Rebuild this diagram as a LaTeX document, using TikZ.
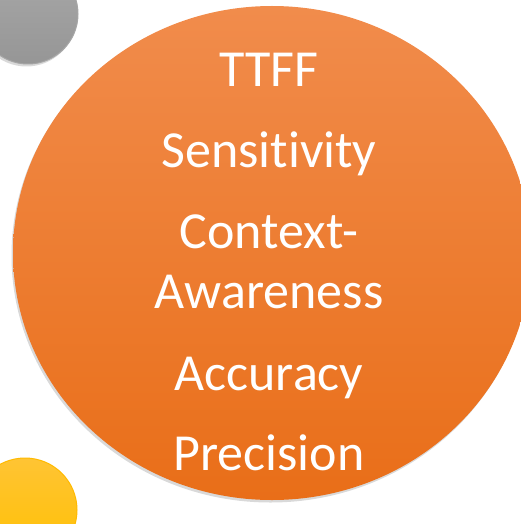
\documentclass[tikz,border=0pt]{standalone}
\usepackage{fontspec}
\setmainfont{Carlito}[Ligatures=NoCommon]
\usetikzlibrary{shadows}

\definecolor{orangetop}{RGB}{241,140,76}
\definecolor{orangemid}{RGB}{244,122,32}
\definecolor{orangebot}{RGB}{233,110,24}
\definecolor{graytop}{RGB}{168,168,168}
\definecolor{graybot}{RGB}{150,150,150}
\definecolor{yellowtop}{RGB}{255,196,52}
\definecolor{yellowbot}{RGB}{255,192,0}

\begin{document}
\begin{tikzpicture}
    \def\dx{1pt}
    \def\dy{-1pt}

    \tikzstyle{item}=[text=white,font=\fontsize{52}{60}\selectfont,anchor=base,inner sep=0pt]
    \tikzstyle{ball}=[drop shadow={opacity=0.3,shadow xshift=-1.5pt,shadow yshift=-2.5pt}]

    \useasboundingbox (0,0) rectangle (521*\dx,524*\dy);
    \clip (0,0) rectangle (521*\dx,524*\dy);

    % side circles
    \shade[ball,top color=graytop,bottom color=graybot,draw=gray!70,line width=1pt]
        (28*\dx,14*\dy) circle (50pt);
    \shade[ball,top color=yellowtop,bottom color=yellowbot,draw=yellowbot!90!orange,line width=1pt]
        (25*\dx,510*\dy) circle (52pt);

    % big circle
    \shade[ball,top color=orangetop,middle color=orangemid,bottom color=orangebot]
        (272*\dx,253*\dy) ellipse (259pt and 247pt);

    \node[item]  (ttff) at (269*\dx,87*\dy) {TTFF};
    \node[item]  (sens) at (269*\dx,167*\dy) {Sensit\kern0pt ivity};
    \node[item]  (ctx) at (269*\dx,248*\dy) {Context-};
    \node[item]  (aware) at (269*\dx,308*\dy) {Awareness};
    \node[item]  (acc) at (269*\dx,390*\dy) {Accuracy};
    \node[item]  (prec) at (269*\dx,470*\dy) {Precision};
\end{tikzpicture}
\end{document}
